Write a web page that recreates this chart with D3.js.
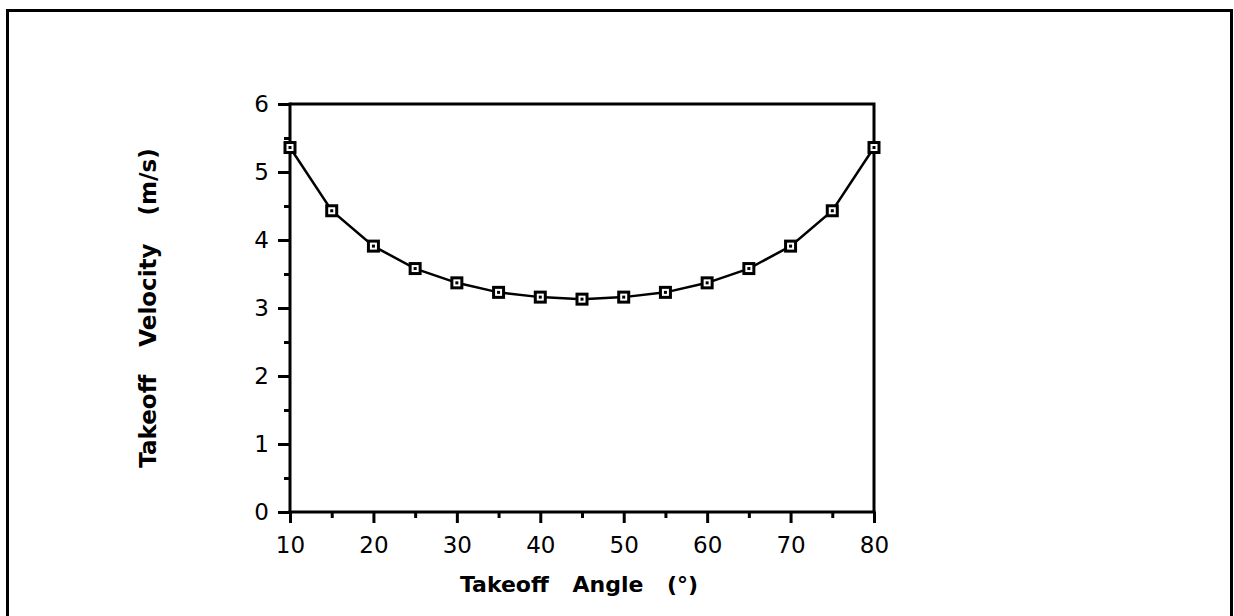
<!DOCTYPE html>
<html>
<head>
<meta charset="utf-8">
<script src="https://cdn.jsdelivr.net/npm/d3@7"></script>
<style>
  html, body { margin: 0; padding: 0; background: #fff; }
  svg { display: block; }
  text { font-family: "DejaVu Sans", Verdana, sans-serif; fill: #000; }
</style>
</head>
<body>
<svg id="chart" width="1234" height="616"></svg>
<script>
// Takeoff angle (degrees) and the takeoff velocity needed at each angle (m/s)
const angles = [10, 15, 20, 25, 30, 35, 40, 45, 50, 55, 60, 65, 70, 75, 80];
const velocities = [5.36, 4.43, 3.91, 3.58, 3.37, 3.23, 3.16, 3.13, 3.16, 3.23, 3.37, 3.58, 3.91, 4.43, 5.36];
const xTicks = [10, 20, 30, 40, 50, 60, 70, 80];
const xMinorTicks = [15, 25, 35, 45, 55, 65, 75];
const yTicks = [0, 1, 2, 3, 4, 5, 6];
const yMinorTicks = [0.5, 1.5, 2.5, 3.5, 4.5, 5.5];
const xTitle = "Takeoff Angle (°)";
const yTitle = "Takeoff Velocity (m/s)";

const svg = d3.select("#chart");
const plot = { left: 290, right: 874, top: 104, bottom: 512 };

const x = d3.scaleLinear().domain([10, 80]).range([plot.left, plot.right]);
const y = d3.scaleLinear().domain([0, 6]).range([plot.bottom, plot.top]);

// outer frame (runs past the bottom edge)
svg.append("rect")
  .attr("x", 7.5).attr("y", 10.5)
  .attr("width", 1224).attr("height", 640)
  .attr("fill", "none").attr("stroke", "#000").attr("stroke-width", 3);

// plot box: top and right edges
svg.append("path")
  .attr("d", `M${plot.left},${plot.top}H${plot.right}V${plot.bottom}`)
  .attr("fill", "none").attr("stroke", "#000").attr("stroke-width", 3);

// x axis
const gx = svg.append("g").attr("transform", `translate(0,${plot.bottom})`);
gx.call(d3.axisBottom(x).tickValues(xTicks).tickSize(11).tickPadding(14).tickFormat(d3.format("d")));
gx.select(".domain").attr("d", `M${plot.left - 1.5},0H${plot.right + 1.5}`);
gx.append("g").call(d3.axisBottom(x).tickValues(xMinorTicks).tickSize(6).tickFormat(""))
  .select(".domain").remove();

// y axis
const gy = svg.append("g").attr("transform", `translate(${plot.left},0)`);
gy.call(d3.axisLeft(y).tickValues(yTicks).tickSize(12).tickPadding(9).tickFormat(d3.format("d")));
gy.select(".domain").attr("d", `M0,${plot.bottom + 1.5}V${plot.top - 1.5}`);
gy.append("g").call(d3.axisLeft(y).tickValues(yMinorTicks).tickSize(6).tickFormat(""))
  .select(".domain").remove();

svg.selectAll(".domain").attr("stroke-width", 3);
svg.selectAll(".tick line").attr("stroke-width", 3);
svg.selectAll("g").attr("font-size", null).attr("font-family", null);
svg.selectAll(".tick text")
  .attr("font-size", 23)
  .attr("font-family", '"DejaVu Sans", Verdana, sans-serif')
  .attr("fill", "#000");

// data line
svg.append("path")
  .datum(angles.map((a, i) => [a, velocities[i]]))
  .attr("fill", "none").attr("stroke", "#000").attr("stroke-width", 2.5)
  .attr("d", d3.line().x(d => x(d[0])).y(d => y(d[1])));

// square markers with a centre dot
const marks = svg.append("g").selectAll("g")
  .data(angles.map((a, i) => [a, velocities[i]]))
  .join("g")
  .attr("transform", d => `translate(${x(d[0])},${y(d[1])})`);
marks.append("rect")
  .attr("x", -5).attr("y", -5).attr("width", 10).attr("height", 10)
  .attr("fill", "#fff").attr("stroke", "#000").attr("stroke-width", 3);
marks.append("rect")
  .attr("x", -1.5).attr("y", -1.5).attr("width", 3).attr("height", 3)
  .attr("fill", "#000");

// axis titles
svg.append("text")
  .attr("x", 579).attr("y", 592)
  .attr("text-anchor", "middle")
  .attr("font-size", 22).attr("font-weight", "bold")
  .style("word-spacing", "16px")
  .text(xTitle);

svg.append("text")
  .attr("transform", "translate(156,308) rotate(-90)")
  .attr("text-anchor", "middle")
  .attr("font-size", 23).attr("font-weight", "bold")
  .style("word-spacing", "20px")
  .text(yTitle);
</script>
</body>
</html>
